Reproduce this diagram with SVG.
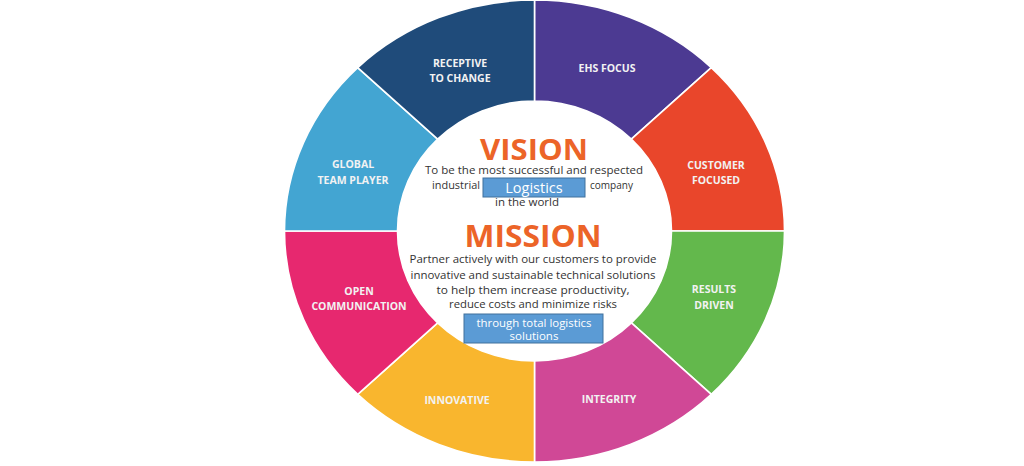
<svg xmlns="http://www.w3.org/2000/svg" width="1024" height="466" viewBox="0 0 1024 466">
<style>
.seg{stroke:#ffffff;stroke-width:1.6}
.lbl{font-family:"Open Sans","Liberation Sans",sans-serif;font-weight:bold;font-size:10.5px;fill:#F2F2F2;text-anchor:middle}
.head{font-family:"Open Sans","Liberation Sans",sans-serif;font-weight:bold;fill:#EC6428;text-anchor:middle}
.body{font-family:"Open Sans","Liberation Sans",sans-serif;font-size:11.5px;fill:#333333}
.box{fill:#5B9BD5;stroke:#41719C;stroke-width:1}
.boxt{font-family:"Open Sans","Liberation Sans",sans-serif;fill:#ffffff;text-anchor:middle}
</style>
<rect width="1024" height="466" fill="#ffffff"/>
<g id="ehs-focus">
<path class="seg" fill="#4C3A92" d="M534.5,0 A250,231 0 0 1 711.28,67.66 L631.37,139.08 A137,130 0 0 0 534.5,101 Z"/>
<text class="lbl" x="607" y="72">EHS FOCUS</text>
</g>
<g id="customer-focused">
<path class="seg" fill="#E9462B" d="M711.28,67.66 A250,231 0 0 1 784.5,231 L671.5,231 A137,130 0 0 0 631.37,139.08 Z"/>
<text class="lbl" x="716" y="169">CUSTOMER</text>
<text class="lbl" x="716" y="184">FOCUSED</text>
</g>
<g id="results-driven">
<path class="seg" fill="#63B84C" d="M784.5,231 A250,231 0 0 1 711.28,394.34 L631.37,322.92 A137,130 0 0 0 671.5,231 Z"/>
<text class="lbl" x="714" y="293">RESULTS</text>
<text class="lbl" x="714" y="309">DRIVEN</text>
</g>
<g id="integrity">
<path class="seg" fill="#D04896" d="M711.28,394.34 A250,231 0 0 1 534.5,462 L534.5,361 A137,130 0 0 0 631.37,322.92 Z"/>
<text class="lbl" x="609" y="403">INTEGRITY</text>
</g>
<g id="innovative">
<path class="seg" fill="#F9B62E" d="M534.5,462 A250,231 0 0 1 357.72,394.34 L437.63,322.92 A137,130 0 0 0 534.5,361 Z"/>
<text class="lbl" x="457" y="404">INNOVATIVE</text>
</g>
<g id="open-communication">
<path class="seg" fill="#E7286F" d="M357.72,394.34 A250,231 0 0 1 284.5,231 L397.5,231 A137,130 0 0 0 437.63,322.92 Z"/>
<text class="lbl" x="359" y="295">OPEN</text>
<text class="lbl" x="359" y="310">COMMUNICATION</text>
</g>
<g id="global-team-player">
<path class="seg" fill="#43A5D2" d="M284.5,231 A250,231 0 0 1 357.72,67.66 L437.63,139.08 A137,130 0 0 0 397.5,231 Z"/>
<text class="lbl" x="353" y="168">GLOBAL</text>
<text class="lbl" x="353" y="184">TEAM PLAYER</text>
</g>
<g id="receptive-to-change">
<path class="seg" fill="#1F4B7A" d="M357.72,67.66 A250,231 0 0 1 534.5,0 L534.5,101 A137,130 0 0 0 437.63,139.08 Z"/>
<text class="lbl" x="460" y="67">RECEPTIVE</text>
<text class="lbl" x="460" y="82">TO CHANGE</text>
</g>
<g id="vision">
<text class="head" x="534" y="160" font-size="28" textLength="108" lengthAdjust="spacingAndGlyphs">VISION</text>
<text class="body" x="425" y="174" textLength="218" lengthAdjust="spacingAndGlyphs">To be the most successful and respected</text>
<text class="body" x="432" y="189" textLength="48" lengthAdjust="spacingAndGlyphs">industrial</text>
<text class="body" x="590" y="189" textLength="43" lengthAdjust="spacingAndGlyphs">company</text>
<text class="body" x="527" y="205.5" text-anchor="middle">in the world</text>
<rect class="box" x="483" y="178" width="102" height="19"/>
<text class="boxt" x="534" y="193" font-size="14.5">Logistics</text>
</g>
<g id="mission">
<text class="head" x="533" y="247" font-size="30" textLength="137" lengthAdjust="spacingAndGlyphs">MISSION</text>
<text class="body" x="533" y="263" text-anchor="middle" textLength="247" lengthAdjust="spacingAndGlyphs">Partner actively with our customers to provide</text>
<text class="body" x="533" y="279" text-anchor="middle" textLength="245" lengthAdjust="spacingAndGlyphs">innovative and sustainable technical solutions</text>
<text class="body" x="533" y="294" text-anchor="middle" textLength="193" lengthAdjust="spacingAndGlyphs">to help them increase productivity,</text>
<text class="body" x="533" y="308" text-anchor="middle" textLength="168" lengthAdjust="spacingAndGlyphs">reduce costs and minimize risks</text>
<rect class="box" x="464" y="314" width="139" height="29"/>
<text class="boxt" x="534" y="327" font-size="11.5" textLength="115" lengthAdjust="spacingAndGlyphs">through total logistics</text>
<text class="boxt" x="534" y="340" font-size="11.5">solutions</text>
</g>
</svg>
